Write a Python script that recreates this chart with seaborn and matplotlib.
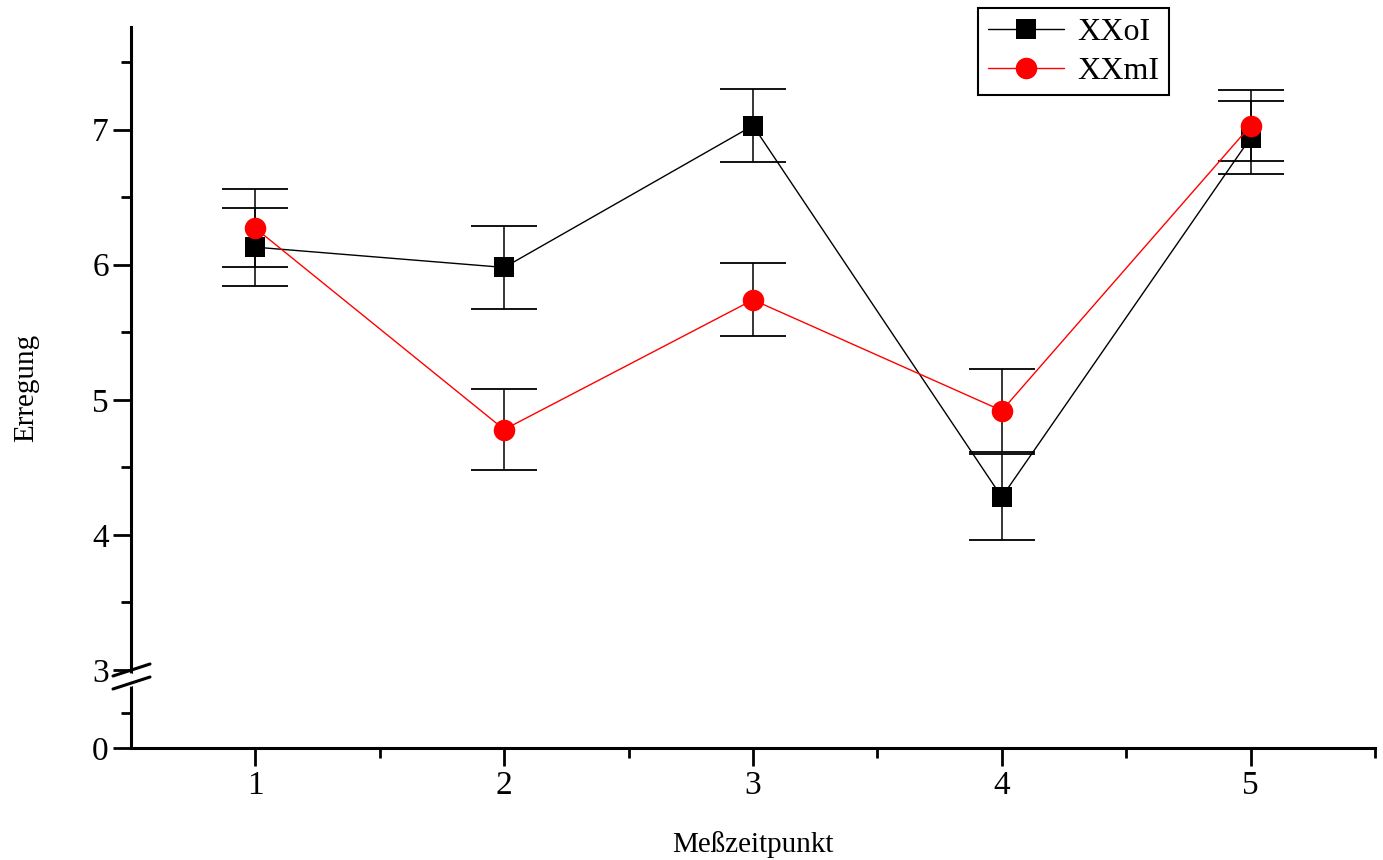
import numpy as np
import pandas as pd
import matplotlib
matplotlib.use("Agg")
import matplotlib.pyplot as plt
import seaborn as sns
from matplotlib.ticker import FixedLocator, NullFormatter, FixedFormatter

# ---- data ----
x_points = [1, 2, 3, 4, 5]
xxoi = [6.13, 5.98, 7.03, 4.28, 6.94]
xxoi_err = [0.29, 0.305, 0.27, 0.32, 0.27]
xxmi = [6.27, 4.78, 5.74, 4.92, 7.03]
xxmi_err = [0.29, 0.30, 0.27, 0.31, 0.265]
y_major = [0, 3, 4, 5, 6, 7]
y_major_labels = ["0", "3", "4", "5", "6", "7"]
y_minor = [0.5, 3.5, 4.5, 5.5, 6.5, 7.5]
x_major = [1, 2, 3, 4, 5]
x_minor = [1.5, 2.5, 3.5, 4.5, 5.5]

sns.set_theme(style="white")
plt.rcParams["font.family"] = ["Liberation Serif", "DejaVu Serif"]
plt.rcParams["text.color"] = "black"
plt.rcParams["axes.labelcolor"] = "black"
plt.rcParams["xtick.color"] = "black"
plt.rcParams["ytick.color"] = "black"

fig = plt.figure(figsize=(13.83, 8.6), dpi=100)
ax = fig.add_axes([131 / 1383, 1 - 748 / 860, (1375 - 131) / 1383, (748 - 27) / 860])

# broken axis scale: 0..1 compressed, 1..3 gap, 3.. normal
def fwd(y):
    y = np.asarray(y, dtype=float)
    return np.where(y <= 1, y * 70.0,
                    np.where(y >= 3, 78.0 + (y - 3) * 135.0, 70.0 + (y - 1) * 4.0))

def inv(p):
    p = np.asarray(p, dtype=float)
    return np.where(p <= 70, p / 70.0,
                    np.where(p >= 78, 3 + (p - 78) / 135.0, 1 + (p - 70) / 4.0))

ax.set_yscale("function", functions=(fwd, inv))

df = pd.DataFrame({"x": x_points + x_points,
                   "y": xxoi + xxmi,
                   "series": ["XXoI"] * 5 + ["XXmI"] * 5})

# error bars
for vals, errs in [(xxmi, xxmi_err), (xxoi, xxoi_err)]:
    ax.errorbar(x_points, vals, yerr=errs, fmt="none", ecolor="black",
                elinewidth=1.1, capsize=24, capthick=1.3, zorder=2)

sns.lineplot(data=df[df.series == "XXoI"], x="x", y="y", ax=ax, color="black",
             marker="s", markersize=14, markeredgewidth=0, linewidth=1.0,
             label="XXoI", zorder=3)
sns.lineplot(data=df[df.series == "XXmI"], x="x", y="y", ax=ax, color="#ff0000",
             marker="o", markersize=15.5, markeredgewidth=0, linewidth=1.0,
             label="XXmI", zorder=4)

ax.set_xlim(0.5, 5.5)
ax.set_ylim(0, 7.76)

ax.yaxis.set_major_locator(FixedLocator(y_major))
ax.yaxis.set_major_formatter(FixedFormatter(y_major_labels))
ax.yaxis.set_minor_locator(FixedLocator(y_minor))
ax.yaxis.set_minor_formatter(NullFormatter())
ax.xaxis.set_major_locator(FixedLocator(x_major))
ax.xaxis.set_minor_locator(FixedLocator(x_minor))

for s in ["top", "right"]:
    ax.spines[s].set_visible(False)
for s in ["left", "bottom"]:
    ax.spines[s].set_linewidth(2.2)
    ax.spines[s].set_color("black")

ax.tick_params(which="major", direction="out", length=13, width=2.0,
               colors="black", labelsize=24, pad=3, left=True, bottom=True)
ax.tick_params(which="minor", direction="out", length=7, width=2.0,
               colors="black", left=True, bottom=True)

ax.set_xlabel("Meßzeitpunkt", fontsize=21, labelpad=22)
ax.set_ylabel("Erregung", fontsize=21, labelpad=38)

# axis break marks
h = 721.0
w = 1244.0
ax.plot([0, 0], [(748 - 676) / h, (748 - 684) / h], transform=ax.transAxes,
        color="white", linewidth=4, clip_on=False, zorder=10)
for yc in [670, 683]:
    ax.plot([-18 / w, 19 / w], [(748 - yc) / h - 6 / h, (748 - yc) / h + 6 / h],
            transform=ax.transAxes, color="black", linewidth=2.2,
            clip_on=False, zorder=11)

leg = ax.legend(loc="upper left", bbox_to_anchor=(978 / 1383, 1 - 8 / 860),
                bbox_transform=fig.transFigure, borderaxespad=0, fontsize=23,
                frameon=True, fancybox=False, framealpha=1, handlelength=2.4,
                handletextpad=0.4, borderpad=0.3, labelspacing=0.3)
leg.get_frame().set_edgecolor("black")
leg.get_frame().set_linewidth(1.5)

ax.grid(False)
fig.savefig("out.png", dpi=100)
